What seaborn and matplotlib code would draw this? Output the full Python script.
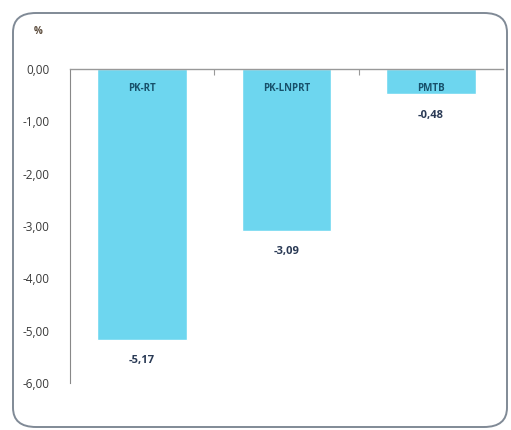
import matplotlib
matplotlib.use("Agg")
import matplotlib.pyplot as plt
from matplotlib.patches import FancyBboxPatch
import seaborn as sns
import pandas as pd

categories = ["PK-RT", "PK-LNPRT", "PMTB"]
values = [-5.17, -3.09, -0.48]
y_ticks = [0, -1, -2, -3, -4, -5, -6]

sns.set_style("white")
plt.rcParams["font.family"] = ["Open Sans", "DejaVu Sans"]

bar_color = "#6dd6ef"
label_color = "#2a3a55"
cat_color = "#17506a"

df = pd.DataFrame({"category": categories, "value": values})

fig = plt.figure(figsize=(5.11, 4.30), dpi=100)
fig.patch.set_facecolor("white")

# rounded frame around the chart area
frame = FancyBboxPatch((13 / 511, 3 / 430), 494 / 511, 414 / 430,
                       boxstyle="round,pad=0,rounding_size=0.045",
                       transform=fig.transFigure, facecolor="none",
                       edgecolor="#808a96", linewidth=1.4)
fig.patches.append(frame)

ax = fig.add_axes([70 / 511, 1 - 383 / 430, 433 / 511, (383 - 69) / 430])
sns.barplot(data=df, x="category", y="value", color=bar_color,
            saturation=1, width=0.62, ax=ax)

ax.set_ylim(-6, 0)
ax.set_xlim(-0.5, 2.5)
ax.set_yticks(y_ticks)
ax.set_yticklabels([f"{t:.2f}".replace(".", ",") for t in y_ticks],
                   fontsize=8.5, color="#3a3a3a")
ax.set_xlabel("")
ax.set_ylabel("")
ax.set_xticks([0.5, 1.5])
ax.set_xticklabels([])
ax.tick_params(axis="x", direction="in", length=4, color="#999999", top=True,
               bottom=False, labeltop=False)
ax.tick_params(axis="y", direction="out", length=3, color="#888888", pad=12)

for side in ["right", "bottom"]:
    ax.spines[side].set_visible(False)
ax.spines["left"].set_color("#888888")
ax.spines["top"].set_color("#999999")
ax.spines["top"].set_linewidth(1.0)

for i, (cat, val) in enumerate(zip(categories, values)):
    ax.text(i, -0.38, cat, ha="center", va="center", fontsize=7,
            fontweight="bold", color=cat_color)
    ax.text(i, val - 0.4, f"{val:.2f}".replace(".", ","), ha="center",
            va="center", fontsize=8, fontweight="bold", color=label_color)

fig.text(38 / 511, 1 - 31 / 430, "%", ha="center", va="center",
         fontsize=7, color="#5a4a3a", fontweight="bold")

fig.savefig("out.png", dpi=100)
